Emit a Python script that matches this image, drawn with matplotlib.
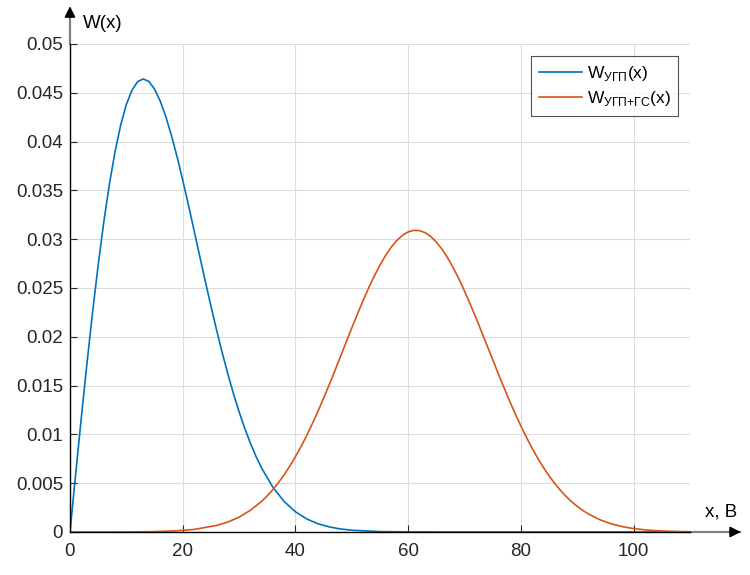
import matplotlib
matplotlib.use('Agg')
import matplotlib.pyplot as plt

plt.rcParams['font.family'] = ['Liberation Sans', 'DejaVu Sans']
plt.rcParams['mathtext.fontset'] = 'custom'
plt.rcParams['mathtext.rm'] = 'Liberation Sans'

# Кривая W_УГП(x)
x_ugp = [0, 1, 2, 3, 4, 5, 6, 7, 8, 9, 10, 11, 12, 13, 14, 15, 16, 17, 18,
         19, 20, 21, 22, 23, 24, 25, 26, 27, 28, 29, 30, 31, 32, 33, 34, 36,
         38, 40, 42, 44, 46, 48, 50, 55, 60, 70, 80, 90, 100, 110]
w_ugp = [0.0, 0.00588, 0.01164, 0.01720, 0.02246, 0.02734, 0.03176, 0.03565,
         0.03898, 0.04170, 0.04380, 0.04527, 0.04614, 0.04642, 0.04616,
         0.04538, 0.04417, 0.04256, 0.04063, 0.03845, 0.03606, 0.03354,
         0.03093, 0.02831, 0.02571, 0.02316, 0.02072, 0.01839, 0.01621,
         0.01418, 0.01232, 0.01063, 0.00911, 0.00775, 0.00655, 0.00458,
         0.00312, 0.00207, 0.00134, 0.00084, 0.00052, 0.00031, 0.00018,
         0.00004, 0.00001, 0.0, 0.0, 0.0, 0.0, 0.0]

# Кривая W_УГП+ГС(x)
x_gs = [0, 10, 14, 18, 22, 26, 28, 30, 32, 34, 35, 36, 37, 38, 39, 40, 41,
        42, 43, 44, 45, 46, 47, 48, 49, 50, 51, 52, 53, 54, 55, 56, 57, 58,
        59, 60, 61, 62, 63, 64, 65, 66, 67, 68, 69, 70, 71, 72, 73, 74, 75,
        76, 77, 78, 79, 80, 81, 82, 83, 84, 85, 86, 87, 88, 89, 90, 91, 92,
        94, 96, 98, 100, 102, 104, 106, 108, 110]
w_gs = [0.0, 0.000008, 0.000029, 0.000092, 0.00026, 0.00067, 0.00102,
        0.00152, 0.00222, 0.00314, 0.00371, 0.00435, 0.00507, 0.00586,
        0.00675, 0.00771, 0.00876, 0.00989, 0.01110, 0.01237, 0.01371,
        0.01510, 0.01653, 0.01799, 0.01945, 0.02090, 0.02233, 0.02371,
        0.02502, 0.02624, 0.02735, 0.02834, 0.02919, 0.02988, 0.03040,
        0.03075, 0.03091, 0.03088, 0.03067, 0.03028, 0.02971, 0.02898,
        0.02809, 0.02707, 0.02593, 0.02468, 0.02336, 0.02198, 0.02055,
        0.01910, 0.01765, 0.01621, 0.01479, 0.01342, 0.01211, 0.01086,
        0.00968, 0.00857, 0.00755, 0.00661, 0.00575, 0.00497, 0.00428,
        0.00365, 0.00310, 0.00262, 0.00220, 0.00184, 0.00126, 0.00084,
        0.00055, 0.00035, 0.00022, 0.00013, 0.00008, 0.00005, 0.00003]

x_ticks = [0, 20, 40, 60, 80, 100]
y_ticks = [0, 0.005, 0.01, 0.015, 0.02, 0.025, 0.03, 0.035, 0.04, 0.045, 0.05]
y_tick_labels = ['0', '0.005', '0.01', '0.015', '0.02', '0.025', '0.03',
                 '0.035', '0.04', '0.045', '0.05']

fig = plt.figure(figsize=(7.5, 5.75), dpi=100)
ax = fig.add_axes([0.0933, 0.0748, 0.8267, 0.8487])

ax.plot(x_ugp, w_ugp, color='#0072BD', linewidth=1.2,
        label=r'W$_{\mathrm{УГП}}$(x)')
ax.plot(x_gs, w_gs, color='#D95319', linewidth=1.2,
        label=r'W$_{\mathrm{УГП{+}ГС}}$(x)')

ax.set_xlim(0, 110)
ax.set_ylim(0, 0.05)
ax.set_xticks(x_ticks)
ax.set_yticks(y_ticks)
ax.set_yticklabels(y_tick_labels)
ax.tick_params(direction='in', length=5, width=0.8, labelsize=13.5,
               colors='#262626')
ax.tick_params(axis='x', pad=8)
ax.tick_params(axis='y', pad=5)
ax.grid(True, color='#dcdcdc', linewidth=0.8)
ax.set_axisbelow(True)

for s in ['top', 'right']:
    ax.spines[s].set_visible(False)
for s in ['left', 'bottom']:
    ax.spines[s].set_color('black')
    ax.spines[s].set_linewidth(1.0)

# Стрелки осей
ax.plot([1.0, 1.08], [0, 0], color='#808080', linewidth=1.6,
        transform=ax.transAxes, clip_on=False)
ax.annotate('', xy=(1.0865, 0), xytext=(1.06, 0), xycoords='axes fraction',
            arrowprops=dict(arrowstyle='-|>', color='black', lw=1.2,
                            mutation_scale=16))
ax.plot([0, 0], [1.0, 1.065], color='#808080', linewidth=1.6,
        transform=ax.transAxes, clip_on=False)
ax.annotate('', xy=(0, 1.083), xytext=(0, 1.055), xycoords='axes fraction',
            arrowprops=dict(arrowstyle='-|>', color='black', lw=1.2,
                            mutation_scale=16))

ax.text(0.021, 1.041, 'W(x)', transform=ax.transAxes, fontsize=13.5,
        ha='left', va='center')
ax.text(1.024, 0.041, 'x, B', transform=ax.transAxes, fontsize=13.5,
        ha='left', va='center')

leg = ax.legend(loc='upper right', bbox_to_anchor=(0.981, 0.975),
                fontsize=12.5, frameon=True, fancybox=False,
                handlelength=2.5, handletextpad=0.25, borderpad=0.45,
                labelspacing=0.35, borderaxespad=0)
leg.get_frame().set_edgecolor('#262626')
leg.get_frame().set_linewidth(0.8)

fig.savefig('out.png', dpi=100)
